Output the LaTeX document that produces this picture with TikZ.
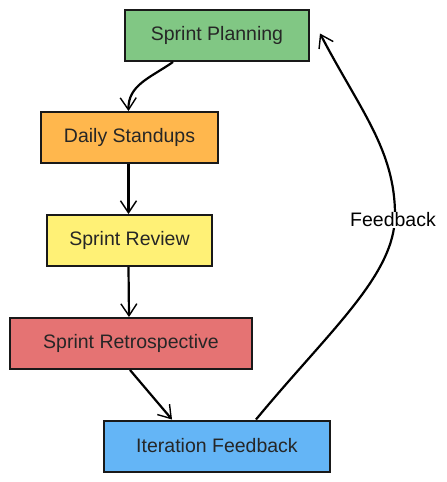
\documentclass[tikz,border=0pt]{standalone}
\usepackage{fontspec}
\setmainfont{Liberation Sans}
\usetikzlibrary{arrows.meta}
\definecolor{cgreen}{HTML}{81C784}
\definecolor{corange}{HTML}{FFB74D}
\definecolor{cyellow}{HTML}{FFF176}
\definecolor{cred}{HTML}{E57373}
\definecolor{cblue}{HTML}{64B5F6}
\definecolor{ctext}{HTML}{262626}
\begin{document}
\begin{tikzpicture}[x=1pt,y=1pt,
  box/.style={draw=black!90, line width=2pt, minimum height=51pt, inner sep=0pt,
    font=\fontsize{19.5}{22}\selectfont, text=ctext},
  conn/.style={draw=black, line width=2.2pt, -{Straight Barb[length=12pt,width=16pt,line width=1.4pt]}},
  lbl/.style={fill=white, inner sep=1pt, font=\fontsize{19.5}{22}\selectfont, text=black}]
\useasboundingbox (0,0) rectangle (447,-482);
\fill[white] (0,0) rectangle (447,-482);
\node[box, fill=cgreen, minimum width=184pt] (plan) at (217,-35.5) {Sprint Planning};
\node[box, fill=corange, minimum width=177pt] (daily) at (129.5,-137.5) {Daily Standups};
\node[box, fill=cyellow, minimum width=165pt] (review) at (129.5,-240.5) {Sprint Review};
\node[box, fill=cred, minimum width=242pt] (retro) at (131,-343.5) {Sprint Retrospective};
\node[box, fill=cblue, minimum width=226pt] (iter) at (217,-446) {Iteration Feedback};
\coordinate (fbmid) at (395,-215);
\draw[conn] ([xshift=-44pt]plan.south) .. controls (150,-78) and (128,-85) .. ([xshift=-1pt]daily.north);
\draw[conn] ([xshift=-1pt]daily.south) -- ([xshift=-1pt]review.north);
\draw[conn] ([xshift=-1pt]review.south) -- ([xshift=-2pt]retro.north);
\draw[conn] ([xshift=-1pt]retro.south) -- ([xshift=-45pt]iter.north);
\draw[conn] ([xshift=39pt]iter.north) .. controls (330,-330) and (395,-275) .. (fbmid)
  .. controls (395,-150) and (360,-110) .. ([xshift=10pt,yshift=2pt]plan.east);
\node[lbl] (fblabel) at (393,-220) {Feedback};
\end{tikzpicture}
\end{document}
